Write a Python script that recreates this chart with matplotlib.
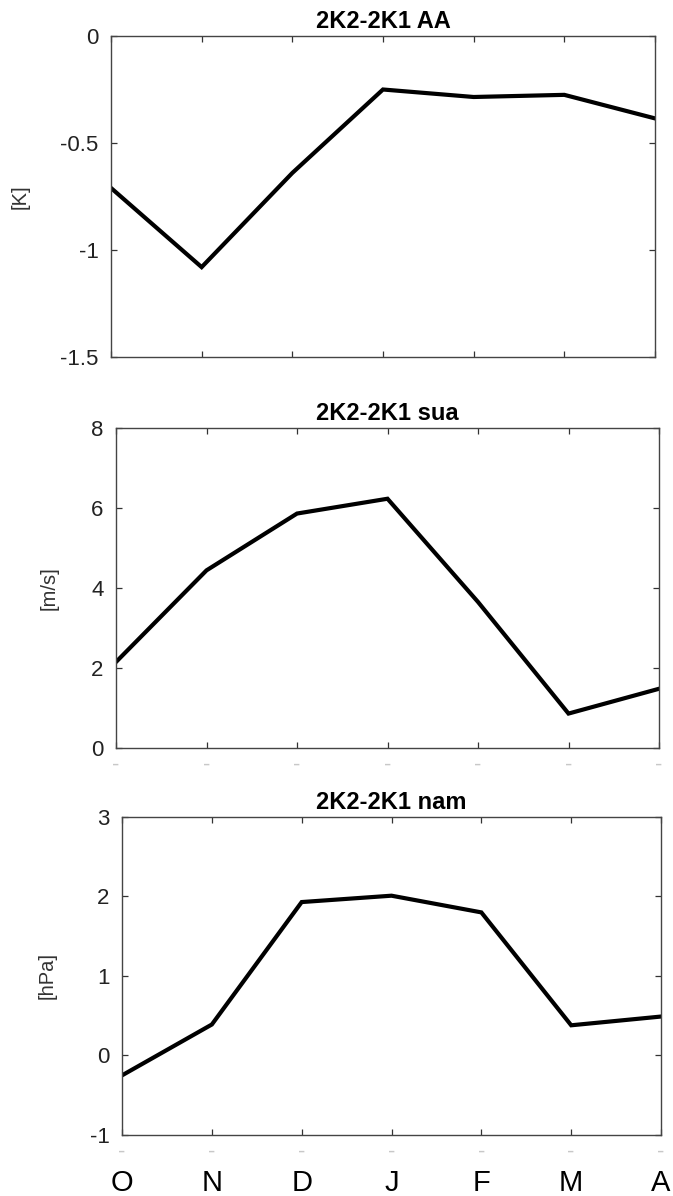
import matplotlib.pyplot as plt
import matplotlib.transforms as mtransforms

plt.rcParams['font.family'] = ['Liberation Sans', 'DejaVu Sans']

# months Oct..Apr
months = ['O', 'N', 'D', 'J', 'F', 'M', 'A']
aa = [-0.71, -1.08, -0.64, -0.25, -0.285, -0.275, -0.385]
sua = [2.15, 4.44, 5.86, 6.23, 3.65, 0.86, 1.48]
nam = [-0.25, 0.39, 1.93, 2.01, 1.80, 0.38, 0.49]

titles = ['2K2-2K1 AA', '2K2-2K1 sua', '2K2-2K1 nam']
units = ['[K]', '[m/s]', '[hPa]']
ylims = [(-1.5, 0), (0, 8), (-1, 3)]
yticks = [[-1.5, -1, -0.5, 0], [0, 2, 4, 6, 8], [-1, 0, 1, 2, 3]]
yticklabels = [['-1.5', '-1', '-0.5', '0'], ['0', '2', '4', '6', '8'],
               ['-1', '0', '1', '2', '3']]
series = [aa, sua, nam]

fig = plt.figure(figsize=(6.73, 11.96), dpi=100)
boxes = [[0.1649, 0.7015, 0.8083, 0.2684],
         [0.1724, 0.3746, 0.8068, 0.2676],
         [0.1813, 0.0510, 0.8009, 0.2659]]
label_x = [-0.15, -0.105, -0.122]

x = list(range(len(months)))
for i in range(3):
    ax = fig.add_axes(boxes[i])
    ax.plot(x, series[i], color='black', lw=3.0, solid_joinstyle='miter')
    ax.set_xlim(0, 6)
    ax.set_ylim(*ylims[i])
    ax.set_yticks(yticks[i])
    ax.set_yticklabels(yticklabels[i])
    ax.set_xticks(x)
    if i == 0:
        ax.set_xticklabels([])
    else:
        ax.set_xticklabels(['-'] * 7, fontsize=5)
    ax.tick_params(direction='in', length=4, width=0.9, top=True, right=True,
                   colors='#333333', labelcolor='#222222', labelsize=16, pad=9)
    ax.tick_params(axis='x', labelcolor='#c8c8c8', pad=5)
    for s in ax.spines.values():
        s.set_color('#444444')
        s.set_linewidth(1.0)
    ax.set_title(titles[i], fontsize=17, fontweight='bold', pad=6)
    ax.set_ylabel(units[i], fontsize=14.5, color='#333333')
    ax.yaxis.set_label_coords(label_x[i], 0.5)
    if i == 2:
        trans = mtransforms.blended_transform_factory(ax.transData, ax.transAxes)
        for xi, m in zip(x, months):
            ax.text(xi, -0.152, m, transform=trans, ha='center', va='center',
                    fontsize=21, color='black')

fig.savefig('out.png', dpi=100)
